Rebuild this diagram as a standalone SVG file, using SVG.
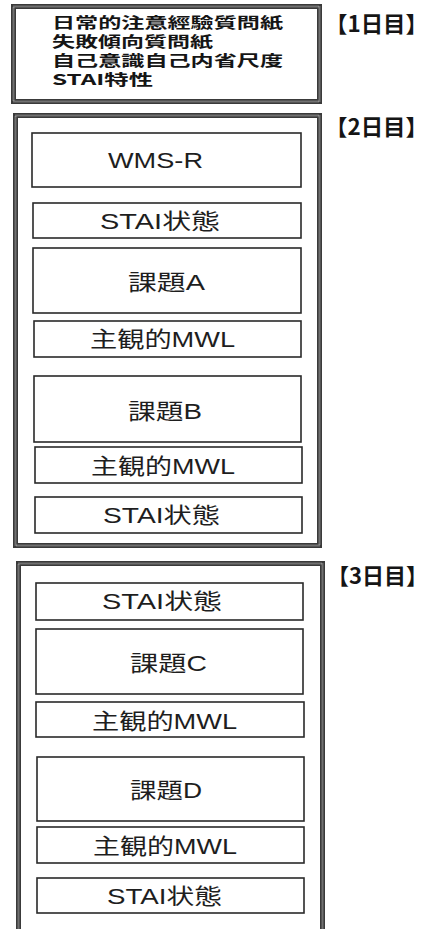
<svg xmlns="http://www.w3.org/2000/svg" width="430" height="929" viewBox="0 0 430 929">
<style>
.frame-o{fill:none;stroke:#3a3a3a;stroke-width:5}
.frame-i{fill:none;stroke:#a8a8a8;stroke-width:2;stroke-dasharray:1 1}
.box{fill:#fff;stroke:#2a2a2a;stroke-width:1.6}
.t{font-family:"Liberation Sans","Noto Sans CJK JP",sans-serif;font-size:22px;fill:#1e1e1e;dominant-baseline:central}
.h{font-family:"Noto Sans CJK JP","Liberation Sans",sans-serif;font-size:15px;font-weight:bold;fill:#151515;dominant-baseline:central}
.lbl{font-family:"Noto Sans CJK JP","Liberation Sans",sans-serif;font-size:22px;font-weight:bold;fill:#151515;dominant-baseline:central}
</style>
<rect width="430" height="929" fill="#fff"/>
<g id="day1">
<rect class="frame-o" x="13.5" y="6.5" width="306" height="95"/>
<rect class="frame-i" x="13.5" y="6.5" width="306" height="95"/>
<text class="h" x="52" y="21" textLength="231" lengthAdjust="spacingAndGlyphs">日常的注意經驗質問紙</text>
<text class="h" x="52" y="40" textLength="161" lengthAdjust="spacingAndGlyphs">失敗傾向質問紙</text>
<text class="h" x="52" y="59" textLength="231" lengthAdjust="spacingAndGlyphs">自己意識自己内省尺度</text>
<text class="h" x="52" y="78" textLength="101" lengthAdjust="spacingAndGlyphs">STAI特性</text>
<text class="lbl" x="325" y="22" textLength="103" lengthAdjust="spacingAndGlyphs">【1日目】</text>
</g>
<g id="day2">
<rect class="frame-o" x="15.5" y="115.5" width="304" height="430"/>
<rect class="frame-i" x="15.5" y="115.5" width="304" height="430"/>
<text class="lbl" x="325" y="125" textLength="103" lengthAdjust="spacingAndGlyphs">【2日目】</text>
</g>
<g id="wms">
<rect class="box" x="32" y="133" width="269" height="54"/>
<text class="t" x="108" y="160" textLength="95" lengthAdjust="spacingAndGlyphs">WMS-R</text>
</g>
<g id="stai2a">
<rect class="box" x="33" y="203" width="268" height="35"/>
<text class="t" x="100" y="221" textLength="120" lengthAdjust="spacingAndGlyphs">STAI状態</text>
</g>
<g id="taskA">
<rect class="box" x="33" y="248" width="268" height="65"/>
<text class="t" x="128" y="282" textLength="77" lengthAdjust="spacingAndGlyphs">課題A</text>
</g>
<g id="mwl2a">
<rect class="box" x="34" y="321" width="267" height="36"/>
<text class="t" x="90" y="339" textLength="145" lengthAdjust="spacingAndGlyphs">主観的MWL</text>
</g>
<g id="taskB">
<rect class="box" x="34" y="376" width="267" height="66"/>
<text class="t" x="128" y="411" textLength="74" lengthAdjust="spacingAndGlyphs">課題B</text>
</g>
<g id="mwl2b">
<rect class="box" x="35" y="447" width="267" height="36"/>
<text class="t" x="91" y="466" textLength="144" lengthAdjust="spacingAndGlyphs">主観的MWL</text>
</g>
<g id="stai2b">
<rect class="box" x="35" y="497" width="267" height="36"/>
<text class="t" x="103" y="515" textLength="117" lengthAdjust="spacingAndGlyphs">STAI状態</text>
</g>
<g id="day3">
<rect class="frame-o" x="18.5" y="563.5" width="304" height="400"/>
<rect class="frame-i" x="18.5" y="563.5" width="304" height="400"/>
<text class="lbl" x="327" y="574" textLength="101" lengthAdjust="spacingAndGlyphs">【3日目】</text>
</g>
<g id="stai3a">
<rect class="box" x="36" y="583" width="267" height="37"/>
<text class="t" x="102" y="601" textLength="120" lengthAdjust="spacingAndGlyphs">STAI状態</text>
</g>
<g id="taskC">
<rect class="box" x="36" y="629" width="267" height="65"/>
<text class="t" x="130" y="663" textLength="77" lengthAdjust="spacingAndGlyphs">課題C</text>
</g>
<g id="mwl3a">
<rect class="box" x="36" y="702" width="268" height="35"/>
<text class="t" x="92" y="721" textLength="145" lengthAdjust="spacingAndGlyphs">主観的MWL</text>
</g>
<g id="taskD">
<rect class="box" x="37" y="757" width="267" height="64"/>
<text class="t" x="130" y="790" textLength="72" lengthAdjust="spacingAndGlyphs">課題D</text>
</g>
<g id="mwl3b">
<rect class="box" x="37" y="827" width="267" height="36"/>
<text class="t" x="93" y="846" textLength="144" lengthAdjust="spacingAndGlyphs">主観的MWL</text>
</g>
<g id="stai3b">
<rect class="box" x="37" y="878" width="267" height="35"/>
<text class="t" x="107" y="896" textLength="115" lengthAdjust="spacingAndGlyphs">STAI状態</text>
</g>
<g id="connectors"></g>
</svg>
